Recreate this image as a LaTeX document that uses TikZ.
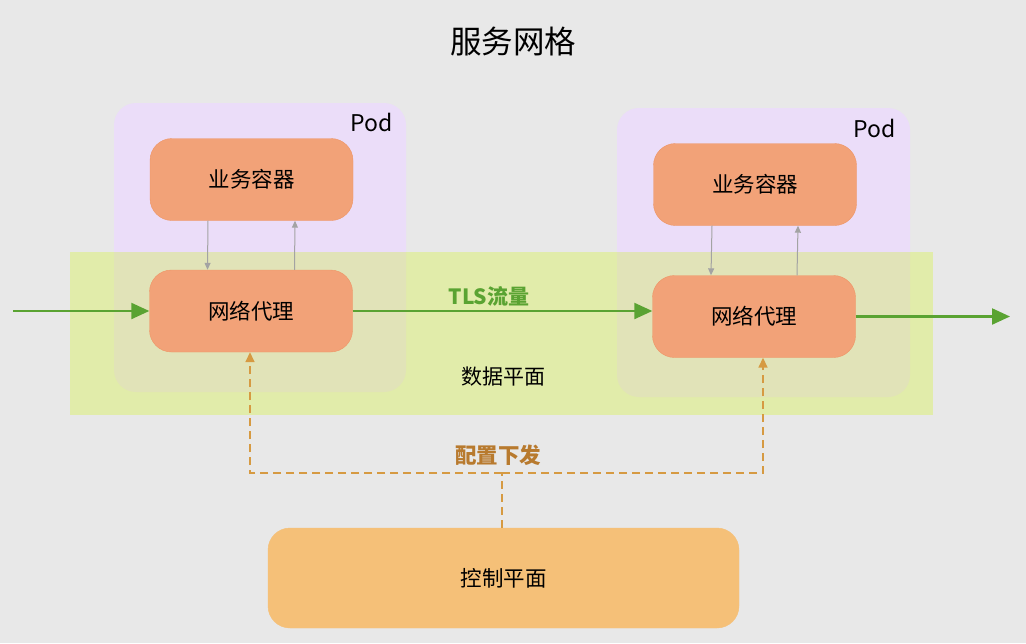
\documentclass[tikz,border=0pt]{standalone}
\usepackage{fontspec}
\setmainfont{Noto Sans CJK SC}
\usetikzlibrary{arrows.meta,positioning}
\definecolor{bg}{HTML}{E8E8E8}
\definecolor{podfill}{HTML}{EBDDF9}
\definecolor{planefill}{HTML}{E1ECAA}
\definecolor{overlap}{HTML}{E1E3B8}
\definecolor{boxfill}{HTML}{F2A278}
\definecolor{boxline}{HTML}{EE9566}
\definecolor{ctrlfill}{HTML}{F5C078}
\definecolor{flowgreen}{HTML}{5AA332}
\definecolor{cfgorange}{HTML}{D69A42}
\definecolor{cfgtext}{HTML}{B87A2E}
\definecolor{callgray}{HTML}{A3A3A3}
\tikzset{
  box/.style={draw=boxline, fill=boxfill, rounded corners=22pt, minimum width=203pt, minimum height=82pt, font=\fontsize{21.5}{25}\selectfont},
  ctrlbox/.style={draw=ctrlfill, fill=ctrlfill, rounded corners=22pt, minimum width=471pt, minimum height=100pt, font=\fontsize{21.5}{25}\selectfont},
  call/.style={draw=callgray, line width=1pt, -{Triangle[length=7pt,width=6pt]}},
  flow/.style={draw=flowgreen, line width=2.2pt, -{Triangle[length=18pt,width=16pt]}},
  cfgline/.style={draw=cfgorange, line width=1.6pt, dash pattern=on 8pt off 5pt},
  cfgarrow/.style={cfgline, -{Triangle[length=10pt,width=9pt]}},
  label/.style={font=\fontsize{21}{25}\selectfont}
}

\begin{document}
\begin{tikzpicture}[x=1pt,y=-1pt]
	\useasboundingbox (0,0) rectangle (1026,643);
	\fill[bg] (0,0) rectangle (1026,643);

	% pods and data plane
	\fill[podfill, rounded corners=22pt] (114,103) rectangle (406,392);
	\fill[podfill, rounded corners=22pt] (617,108) rectangle (910,397);
	\fill[planefill] (70,252) rectangle (933,415);
	\begin{scope}
		\clip (70,252) rectangle (933,415);
		\fill[overlap, rounded corners=22pt] (114,103) rectangle (406,392);
		\fill[overlap, rounded corners=22pt] (617,108) rectangle (910,397);
	\end{scope}

	\node[font=\fontsize{31.5}{36}\selectfont] (title) at (513,42) {服务网格};
	\node[font=\fontsize{23}{27}\selectfont] (pod1) at (372,122) {Pod};
	\node[font=\fontsize{23}{27}\selectfont] (pod2) at (875,128) {Pod};
	\node[label] (dataplane) at (503,377) {数据平面};

	\node[box] (app1) at (251.5,179.5) {业务容器};
	\node[box] (proxy1) at (251,311) {网络代理};
	\node[box] (app2) at (755,184.5) {业务容器};
	\node[box] (proxy2) at (754,316.5) {网络代理};
	\node[ctrlbox] (ctrl) at (503.5,578) {控制平面};

	% app <-> proxy
	\draw[call] ([xshift=-43.5pt]app1.south) -- ([xshift=-43.5pt]proxy1.north);
	\draw[call] ([xshift=43.5pt]proxy1.north) -- ([xshift=43.5pt]app1.south);
	\draw[call] ([xshift=-43pt]app2.south) -- ([xshift=-43pt]proxy2.north);
	\draw[call] ([xshift=43pt]proxy2.north) -- ([xshift=43pt]app2.south);

	% traffic
	\coordinate (in) at (13,311);
	\coordinate (out) at (1010,316.5);
	\draw[flow] (in) -- (proxy1.west);
	\draw[flow] (proxy1.east) -- (proxy1.east -| proxy2.west);
	\draw[flow] (proxy2.east) -- (out);
	\node[font=\fontsize{21}{25}\selectfont\bfseries, text=flowgreen] (tls) at (489,296) {TLS流量};

	% config
	\coordinate (split) at (502,473);
	\draw[cfgline] (ctrl.north -| split) -- (split);
	\draw[cfgarrow] (split) -| ([xshift=-1pt]proxy1.south);
	\draw[cfgarrow] (split) -| ([xshift=9pt]proxy2.south);
	\node[font=\fontsize{21.5}{25}\selectfont\bfseries, text=cfgtext] (cfg) at (498,455) {配置下发};
\end{tikzpicture}
\end{document}
